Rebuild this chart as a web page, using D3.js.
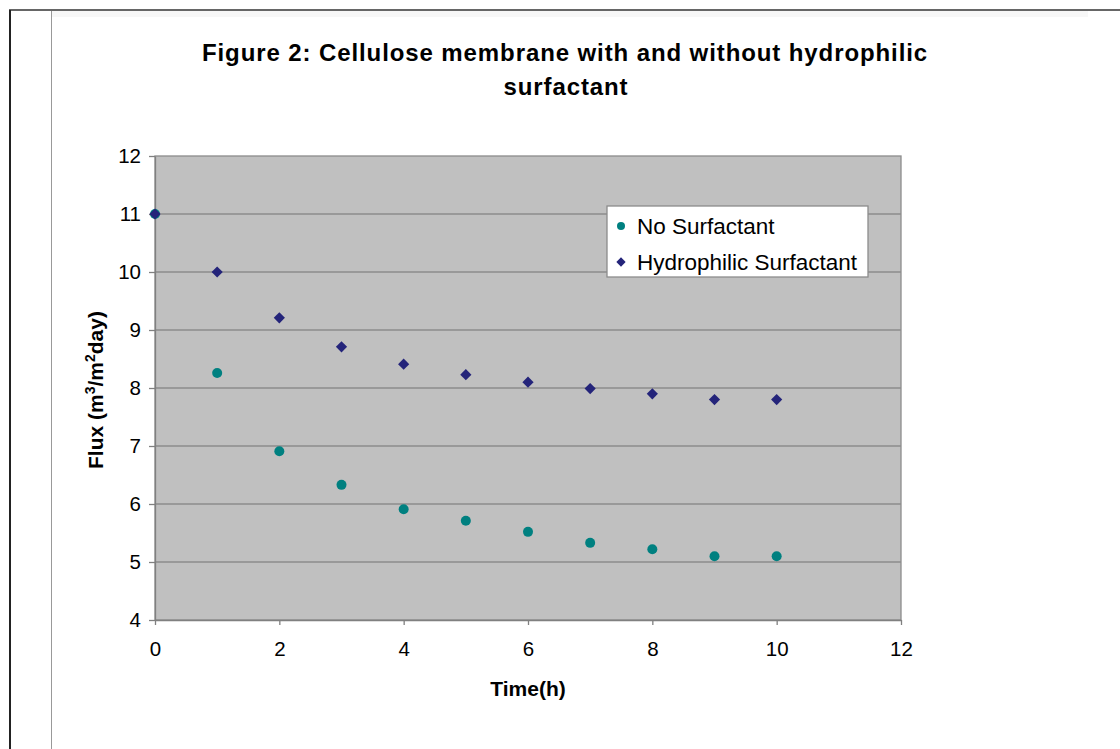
<!DOCTYPE html>
<html>
<head>
<meta charset="utf-8">
<script src="https://cdn.jsdelivr.net/npm/d3@7"></script>
<style>
  body { margin: 0; background: #fff; }
  text { font-family: "Liberation Sans", Arial, sans-serif; }
</style>
</head>
<body>
<div id="chart"></div>
<script>
var width = 1120;
var height = 749;

// data
var hours = [0, 1, 2, 3, 4, 5, 6, 7, 8, 9, 10];
var noSurfactant = [11, 8.26, 6.91, 6.33, 5.91, 5.71, 5.52, 5.33, 5.22, 5.1, 5.1];
var hydrophilic = [11, 10, 9.21, 8.71, 8.41, 8.23, 8.1, 7.99, 7.9, 7.8, 7.8];
var xTicks = [0, 2, 4, 6, 8, 10, 12];
var yTicks = [4, 5, 6, 7, 8, 9, 10, 11, 12];
var seriesNames = ["No Surfactant", "Hydrophilic Surfactant"];

var plot = {left: 155, right: 901, top: 156, bottom: 620};

var svg = d3.select("#chart").append("svg")
    .attr("width", width)
    .attr("height", height);

// page frame lines
svg.append("rect").attr("x", 51).attr("y", 11).attr("width", 1037).attr("height", 6).attr("fill", "#f7f7f7");
svg.append("line").attr("x1", 9).attr("x2", width).attr("y1", 10).attr("y2", 10)
    .attr("stroke", "#666").attr("stroke-width", 2);
svg.append("line").attr("x1", 10).attr("x2", 10).attr("y1", 10).attr("y2", height)
    .attr("stroke", "#222").attr("stroke-width", 2);
svg.append("line").attr("x1", 51.5).attr("x2", 51.5).attr("y1", 11).attr("y2", height)
    .attr("stroke", "#999").attr("stroke-width", 1);

var x = d3.scaleLinear().domain([0, 12]).range([plot.left, plot.right]);
var y = d3.scaleLinear().domain([4, 12]).range([plot.bottom, plot.top]);

// plot background
svg.append("rect")
    .attr("x", plot.left).attr("y", plot.top)
    .attr("width", plot.right - plot.left).attr("height", plot.bottom - plot.top)
    .attr("fill", "#c0c0c0")
    .attr("stroke", "#8c8c8c").attr("stroke-width", 1.3);

// gridlines
svg.append("g").selectAll("line")
    .data(yTicks.slice(1, -1))
    .join("line")
    .attr("x1", plot.left).attr("x2", plot.right)
    .attr("y1", d => y(d)).attr("y2", d => y(d))
    .attr("stroke", "#8c8c8c").attr("stroke-width", 1.3);

// axes
var xAxis = svg.append("g")
    .attr("transform", "translate(0," + plot.bottom + ")")
    .call(d3.axisBottom(x).tickValues(xTicks).tickSize(5).tickPadding(16).tickSizeOuter(0));
var yAxis = svg.append("g")
    .attr("transform", "translate(" + plot.left + ",0)")
    .call(d3.axisLeft(y).tickValues(yTicks).tickSize(6).tickPadding(8).tickSizeOuter(0));

[xAxis, yAxis].forEach(function (a) {
    a.select(".domain").attr("stroke", "#808080").attr("stroke-width", 1.3);
    a.selectAll(".tick line").attr("stroke", "#808080").attr("stroke-width", 1.3);
    a.selectAll("text").attr("font-size", 20.5).attr("fill", "#000")
        .style("font-family", "'Liberation Sans', Arial, sans-serif");
});

// points
svg.append("g").selectAll("circle")
    .data(hours)
    .join("circle")
    .attr("cx", d => x(d))
    .attr("cy", (d, i) => y(noSurfactant[i]))
    .attr("r", 5)
    .attr("fill", "#008080");

var diamond = d3.symbol().type(d3.symbolDiamond2).size(80);
svg.append("g").selectAll("path")
    .data(hours)
    .join("path")
    .attr("d", diamond)
    .attr("transform", (d, i) => "translate(" + x(d) + "," + y(hydrophilic[i]) + ")")
    .attr("fill", "#24247a");

// legend
var legend = svg.append("g").attr("transform", "translate(607,206)");
legend.append("rect").attr("width", 261).attr("height", 71)
    .attr("fill", "#fff").attr("stroke", "#8c8c8c").attr("stroke-width", 1.3);
legend.append("circle").attr("cx", 14).attr("cy", 20).attr("r", 4).attr("fill", "#008080");
legend.append("path").attr("d", d3.symbol().type(d3.symbolDiamond2).size(55))
    .attr("transform", "translate(14,56)").attr("fill", "#24247a");
legend.selectAll("text.item")
    .data(seriesNames)
    .join("text")
    .attr("class", "item")
    .attr("x", 30)
    .attr("y", (d, i) => 28 + i * 36)
    .attr("font-size", 22.5)
    .text(d => d);

// title
svg.append("text").attr("x", 565).attr("y", 61).attr("text-anchor", "middle")
    .attr("font-size", 24).attr("font-weight", "bold").attr("letter-spacing", 0.9)
    .text("Figure 2: Cellulose membrane with and without hydrophilic");
svg.append("text").attr("x", 566).attr("y", 95).attr("text-anchor", "middle")
    .attr("font-size", 24).attr("font-weight", "bold").attr("letter-spacing", 0.9)
    .text("surfactant");

// axis titles
svg.append("text").attr("x", 528).attr("y", 696).attr("text-anchor", "middle")
    .attr("font-size", 21).attr("font-weight", "bold")
    .text("Time(h)");

var yTitle = svg.append("text")
    .attr("transform", "translate(103,390) rotate(-90)")
    .attr("text-anchor", "middle")
    .attr("font-size", 21).attr("font-weight", "bold");
yTitle.append("tspan").text("Flux (m");
yTitle.append("tspan").attr("dy", -8).attr("font-size", 14).text("3");
yTitle.append("tspan").attr("dy", 8).text("/m");
yTitle.append("tspan").attr("dy", -8).attr("font-size", 14).text("2");
yTitle.append("tspan").attr("dy", 8).text("day)");
</script>
</body>
</html>
